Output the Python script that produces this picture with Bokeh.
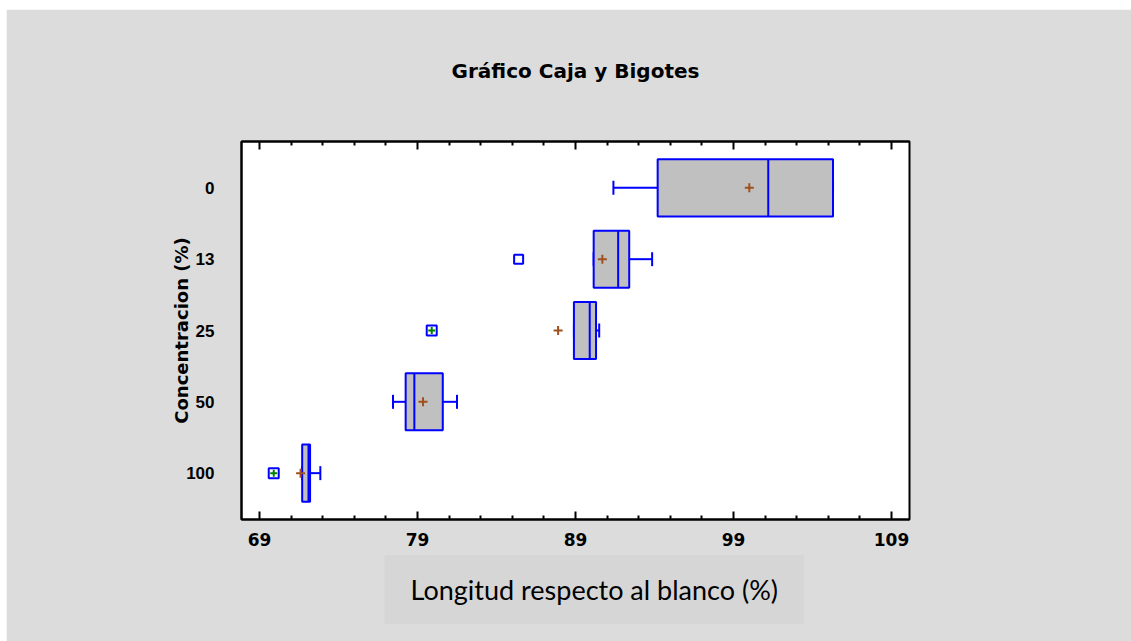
from bokeh.plotting import figure
from bokeh.models import (ColumnDataSource, FactorRange, Range1d, FixedTicker, LinearAxis,
                          Whisker, TeeHead, Title, CustomJSTickFormatter)
from bokeh.transform import dodge
from bokeh.embed import file_html
from bokeh.resources import INLINE

# ---- data ----
categories = ["0", "13", "25", "50", "100"]
whisker_low = [91.4, 90.15, 88.9, 77.45, 71.7]
q1 = [94.2, 90.15, 88.9, 78.25, 71.7]
median = [101.2, 91.7, 89.9, 78.8, 72.1]
q3 = [105.3, 92.4, 90.3, 80.6, 72.2]
whisker_high = [105.3, 93.85, 90.5, 81.5, 72.85]
mean = [100.0, 90.7, 87.9, 79.35, 71.6]

outlier_cats = ["13"]
outlier_vals = [85.4]
far_outlier_cats = ["25", "100"]
far_outlier_vals = [79.9, 69.9]

x_ticks = [69, 79, 89, 99, 109]
x_minor_ticks = [71, 73, 75, 77, 81, 83, 85, 87, 91, 93, 95, 97, 101, 103, 105, 107]

title_text = "Gráfico Caja y Bigotes"
x_label = "Longitud respecto al blanco (%)"
y_label = "Concentracion (%)"

BLUE = "#0000FF"
BOX_FILL = "#C0C0C0"
MEAN_COL = "#A0501E"
BG = "#DCDCDC"
BOLD_FONT = "DejaVu Sans"

src = ColumnDataSource(dict(cat=categories, lo=whisker_low, q1=q1, med=median,
                            q3=q3, hi=whisker_high, mean=mean))
out_src = ColumnDataSource(dict(cat=outlier_cats, v=outlier_vals))
far_src = ColumnDataSource(dict(cat=far_outlier_cats, v=far_outlier_vals))

y_range = FactorRange(factors=list(reversed(categories)), range_padding=0.15,
                      range_padding_units="absolute")

p = figure(width=1125, height=632, output_backend="svg", toolbar_location=None,
           title=None,
           x_range=Range1d(67.86, 110.14), y_range=y_range,
           min_border_left=235, min_border_right=222, min_border_top=132,
           min_border_bottom=122)
p.margin = (9, 0, 0, 6)
p.background_fill_color = "white"
p.border_fill_color = BG
p.outline_line_color = "black"
p.outline_line_width = 2
p.grid.visible = False

# bottom axis
xa = p.xaxis[0]
xa.ticker = FixedTicker(ticks=x_ticks, minor_ticks=x_minor_ticks)
xa.major_tick_in = 8
xa.major_tick_out = 0
xa.minor_tick_in = 4
xa.minor_tick_out = 0
xa.major_tick_line_width = 2
xa.minor_tick_line_width = 2
xa.axis_line_width = 2
xa.major_label_text_font = BOLD_FONT
xa.major_label_text_font_style = "bold"
xa.major_label_text_font_size = "17px"
xa.major_label_text_color = "black"
xa.major_label_standoff = 13

# top mirror axis (ticks only)
ta = LinearAxis(ticker=FixedTicker(ticks=x_ticks, minor_ticks=x_minor_ticks),
                formatter=CustomJSTickFormatter(code="return ''"))
ta.major_tick_in = 8
ta.major_tick_out = 0
ta.minor_tick_in = 4
ta.minor_tick_out = 0
ta.major_tick_line_width = 2
ta.minor_tick_line_width = 2
ta.axis_line_width = 2
ta.major_label_standoff = 0
ta.major_label_text_font_size = "1px"
p.add_layout(ta, "above")

# spacer between the frame and the title, then the title itself
p.add_layout(Title(text=" ", text_font_size="20px", standoff=7), "above")
p.add_layout(Title(text=title_text, align="center", text_font=BOLD_FONT,
                   text_font_style="bold", text_font_size="20px",
                   text_color="black", standoff=56), "above")

# left axis
ya = p.yaxis[0]
ya.major_tick_in = 0
ya.major_tick_out = 0
ya.axis_line_width = 2
ya.major_label_text_font = "Liberation Sans"
ya.major_label_text_font_style = "bold"
ya.major_label_text_font_size = "17px"
ya.major_label_text_color = "black"
ya.major_label_standoff = 27
ya.axis_label = y_label
ya.axis_label_text_font = BOLD_FONT
ya.axis_label_text_font_style = "bold"
ya.axis_label_text_font_size = "18px"
ya.axis_label_text_color = "black"
ya.axis_label_standoff = -9

# x axis label in its own shaded box
xt = Title(text=x_label, align="left", offset=143, standoff=9,
           text_font="Lato", text_font_style="normal", text_font_size="27px",
           text_color="black", background_fill_color="#D6D6D6", padding=(26, 18))
p.add_layout(xt, "below")

# whiskers
lw = Whisker(source=src, base="cat", lower="lo", upper="q1", dimension="width",
             line_color=BLUE, line_width=2,
             lower_head=TeeHead(size=14, line_color=BLUE, line_width=2), upper_head=None)
uw = Whisker(source=src, base="cat", lower="q3", upper="hi", dimension="width",
             line_color=BLUE, line_width=2,
             upper_head=TeeHead(size=14, line_color=BLUE, line_width=2), lower_head=None)
lw.level = "underlay"
uw.level = "underlay"
p.add_layout(lw)
p.add_layout(uw)

# boxes
p.hbar(y="cat", left="q1", right="q3", height=0.8, source=src,
       fill_color=BOX_FILL, line_color=BLUE, line_width=2)
# medians
p.segment(x0="med", x1="med", y0=dodge("cat", -0.4, range=y_range),
          y1=dodge("cat", 0.4, range=y_range), source=src,
          line_color=BLUE, line_width=2)
# means
p.scatter(x="mean", y="cat", source=src, marker="cross", size=9,
          line_color=MEAN_COL, line_width=2)

# outliers
p.scatter(x="v", y="cat", source=out_src, marker="square", size=9,
          fill_color="white", line_color=BLUE, line_width=2)
p.scatter(x="v", y="cat", source=far_src, marker="square", size=10,
          fill_color="white", line_color=BLUE, line_width=2)
p.scatter(x="v", y="cat", source=far_src, marker="cross", size=7,
          line_color="#008000", line_width=2)

open("out.html", "w").write(file_html(p, INLINE))
